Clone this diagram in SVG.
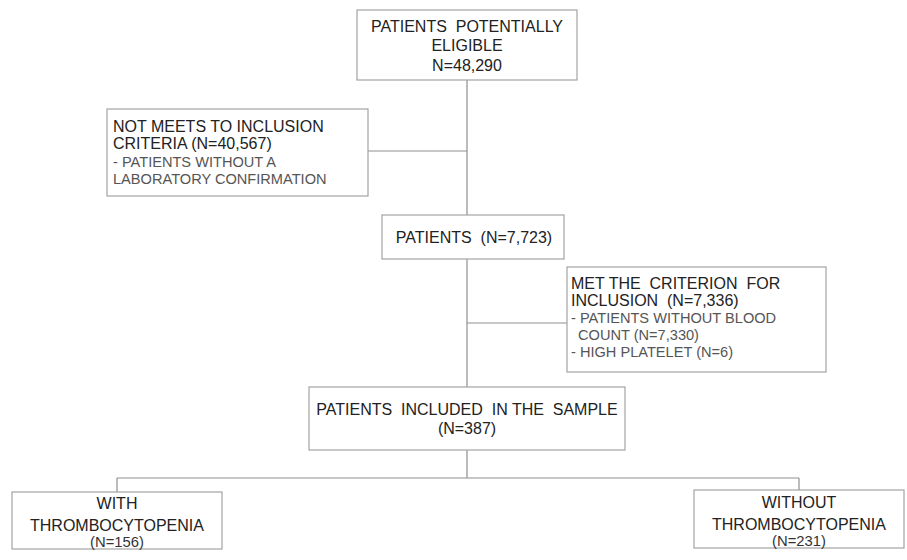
<svg xmlns="http://www.w3.org/2000/svg" width="907" height="560" viewBox="0 0 907 560">
<style>
.box{fill:#fff;stroke:#a3a3a3;stroke-width:1.2}
.ln{fill:none;stroke:#8f8f8f;stroke-width:1.2}
.t{font-family:"Liberation Sans",Arial,sans-serif;font-size:16px;fill:#222}
.s{font-family:"Liberation Sans",Arial,sans-serif;font-size:14.6px;fill:#555}
.m{text-anchor:middle}
</style>
<rect width="907" height="560" fill="#fff"/>
<g id="connectors">
<path class="ln" d="M467 80V215M368 151H467M467 259V387M467 323H567M467 450V478M117 478H799M117 478V492M799 478V490"/>
</g>
<g id="n1">
<rect class="box" x="357" y="10" width="220" height="70"/>
<text class="t m" x="467" y="32" xml:space="preserve">PATIENTS  POTENTIALLY</text>
<text class="t m" x="467" y="51">ELIGIBLE</text>
<text class="t m" x="467" y="71">N=48,290</text>
</g>
<g id="n2">
<rect class="box" x="107" y="109" width="261" height="87"/>
<text class="t" x="113" y="132">NOT MEETS TO INCLUSION</text>
<text class="t" x="113" y="149">CRITERIA (N=40,567)</text>
<text class="s" x="113" y="167">- PATIENTS WITHOUT A</text>
<text class="s" x="113" y="184">LABORATORY CONFIRMATION</text>
</g>
<g id="n3">
<rect class="box" x="382" y="215" width="182" height="44"/>
<text class="t m" x="474" y="243" xml:space="preserve">PATIENTS  (N=7,723)</text>
</g>
<g id="n4">
<rect class="box" x="567" y="267" width="259" height="105"/>
<text class="t" x="571" y="289" xml:space="preserve">MET THE  CRITERION  FOR</text>
<text class="t" x="571" y="306" xml:space="preserve">INCLUSION  (N=7,336)</text>
<text class="s" x="571" y="323">- PATIENTS WITHOUT BLOOD</text>
<text class="s" x="578" y="340">COUNT (N=7,330)</text>
<text class="s" x="571" y="357">- HIGH PLATELET (N=6)</text>
</g>
<g id="n5">
<rect class="box" x="309" y="387" width="316" height="63"/>
<text class="t m" x="467" y="415" xml:space="preserve">PATIENTS  INCLUDED  IN THE  SAMPLE</text>
<text class="t m" x="467" y="434">(N=387)</text>
</g>
<g id="n6">
<rect class="box" x="12" y="492" width="210" height="57"/>
<text class="t m" x="117" y="509">WITH</text>
<text class="t m" x="117" y="531">THROMBOCYTOPENIA</text>
<text class="s m" x="117" y="547" style="fill:#333;font-size:14.8px">(N=156)</text>
</g>
<g id="n7">
<rect class="box" x="694" y="490" width="210" height="58"/>
<text class="t m" x="799" y="508">WITHOUT</text>
<text class="t m" x="799" y="530">THROMBOCYTOPENIA</text>
<text class="s m" x="799" y="546" style="fill:#333;font-size:14.8px">(N=231)</text>
</g>
</svg>
